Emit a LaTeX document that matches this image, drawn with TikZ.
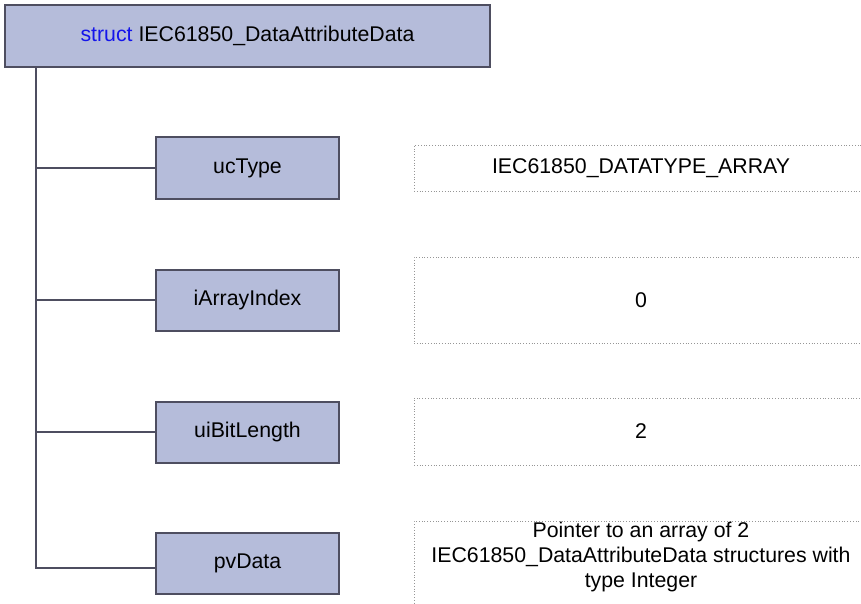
\documentclass[tikz,border=0pt]{standalone}
\usepackage{fontspec}
\setmainfont{Liberation Sans}
\definecolor{boxfill}{RGB}{181,188,218}
\definecolor{boxline}{RGB}{78,78,96}
\definecolor{valline}{RGB}{150,150,150}
\definecolor{kwblue}{RGB}{20,20,235}
\begin{document}
\begin{tikzpicture}[x=1pt,y=-1pt,
  structbox/.style={draw=boxline,line width=2pt,fill=boxfill,inner sep=0pt,
    font=\fontsize{21.3}{25}\selectfont},
  valbox/.style={draw=valline,line width=0.8pt,dotted,inner sep=0pt,
    font=\fontsize{21.3}{25}\selectfont,align=center},
  branch/.style={draw=boxline,line width=2pt}]
\useasboundingbox (0,0) rectangle (861,604);
% header
\node[structbox,minimum width=485pt,minimum height=62pt] (hdr) at (247.5,36)
  {\textcolor{kwblue}{struct} IEC61850\_DataAttributeData};
% members
\node[structbox,minimum width=183pt,minimum height=61pt] (uc) at (247.5,168) {ucType};
\node[structbox,minimum width=183pt,minimum height=61pt] (ai) at (247.5,300) {iArrayIndex};
\node[structbox,minimum width=183pt,minimum height=61pt] (bl) at (247.5,432) {uiBitLength};
\node[structbox,minimum width=183pt,minimum height=61pt] (pv) at (247.5,563.5) {pvData};
% values
\node[valbox,minimum width=454pt,minimum height=46pt] (ucv) at (641,168) {IEC61850\_DATATYPE\_ARRAY};
\node[valbox,minimum width=454pt,minimum height=86pt] (aiv) at (641,300) {0};
\node[valbox,minimum width=454pt,minimum height=67pt] (blv) at (641,431.5) {2};
\node[valbox,minimum width=454pt,minimum height=100pt,anchor=north] (pvv) at (641,521) {};
\node[font=\fontsize{21.3}{25}\selectfont,align=center] (pvt) at (641,556.5)
  {Pointer to an array of 2\\IEC61850\_DataAttributeData structures with\\type Integer};
% tree connectors
\coordinate (top) at (36,67);
\coordinate (end) at (36,568);
\draw[branch] (top) -- (end) -- (pv.west |- end);
\draw[branch] (top |- uc.west) -- (uc.west);
\draw[branch] (top |- ai.west) -- (ai.west);
\draw[branch] (top |- bl.west) -- (bl.west);
\end{tikzpicture}
\end{document}
